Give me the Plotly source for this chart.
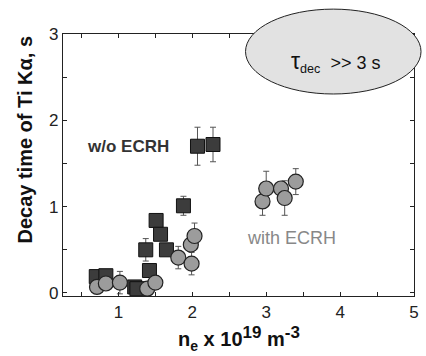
import plotly.graph_objects as go

# w/o ECRH (squares)
sq_x = [0.70, 0.83, 1.22, 1.25, 1.37, 1.42, 1.51, 1.57, 1.65, 1.88, 2.07, 2.28]
sq_y = [0.19, 0.20, 0.07, 0.05, 0.50, 0.26, 0.84, 0.68, 0.50, 1.01, 1.70, 1.72]
sq_e = [0.00, 0.00, 0.00, 0.00, 0.13, 0.00, 0.00, 0.00, 0.00, 0.11, 0.22, 0.20]

# with ECRH (circles)
ci_x = [0.71, 0.83, 1.02, 1.39, 1.50, 1.81, 1.99, 1.98, 2.03, 2.95, 3.00, 3.20, 3.25, 3.40]
ci_y = [0.07, 0.11, 0.12, 0.05, 0.12, 0.41, 0.34, 0.56, 0.66, 1.06, 1.21, 1.21, 1.10, 1.29]
ci_e = [0.00, 0.00, 0.13, 0.00, 0.00, 0.13, 0.13, 0.00, 0.15, 0.16, 0.20, 0.00, 0.20, 0.15]

x_ticks = [1, 2, 3, 4, 5]
y_ticks = [0, 1, 2, 3]

FONT = "Liberation Sans, Arial"

fig = go.Figure()
fig.add_trace(go.Scatter(
    x=sq_x, y=sq_y, mode="markers",
    error_y=dict(type="data", array=sq_e, color="#555555", thickness=1, width=3),
    marker=dict(symbol="square", size=14, color="#3c3c3c",
                line=dict(color="#111111", width=1)),
    showlegend=False))
fig.add_trace(go.Scatter(
    x=ci_x, y=ci_y, mode="markers",
    error_y=dict(type="data", array=ci_e, color="#555555", thickness=1, width=3),
    marker=dict(symbol="circle", size=15, color="#9c9c9c",
                line=dict(color="#222222", width=1.2)),
    showlegend=False))

axis_common = dict(showline=True, linecolor="#222222", linewidth=1.2, mirror="allticks",
                   ticks="inside", ticklen=4, tickcolor="#222222", showgrid=False,
                   zeroline=False, tickfont=dict(family=FONT, size=17, color="#222222"),
                   minor=dict(dtick=0.5, tick0=0, ticks="inside", ticklen=4,
                              tickcolor="#222222", showgrid=False))

fig.update_xaxes(range=[0.25, 5.0], tickvals=x_ticks, **axis_common)
fig.update_yaxes(range=[-0.035, 3.0], tickvals=y_ticks, **axis_common)

fig.add_shape(type="circle", xref="paper", yref="paper",
              x0=0.520, x1=1.020, y0=0.771, y1=1.095,
              fillcolor="#e2e2e2", line=dict(color="#222222", width=1), layer="above")

fig.add_annotation(xref="paper", yref="paper", x=0.775, y=0.893, showarrow=False,
                   xanchor="center", yanchor="middle",
                   text="<span style='font-size:23px'>τ</span><sub>dec</sub>  >> 3 s",
                   font=dict(family=FONT, size=18, color="#111111"))
fig.add_annotation(xref="x", yref="y", x=1.13, y=1.70, showarrow=False,
                   text="<b>w/o ECRH</b>",
                   font=dict(family=FONT, size=17, color="#333333"))
fig.add_annotation(xref="x", yref="y", x=3.34, y=0.64, showarrow=False,
                   text="with ECRH",
                   font=dict(family=FONT, size=18, color="#888888"))
fig.add_annotation(xref="paper", yref="paper", x=(242 - 63) / 356, y=(296 - 339) / 262,
                   showarrow=False, xanchor="center", yanchor="middle",
                   text="<b>n<sub>e</sub> x 10<sup><span style='font-size:17px'>19</span></sup>"
                        " m<sup><span style='font-size:17px'>-3</span></sup></b>",
                   font=dict(family=FONT, size=20, color="#111111"))
fig.add_annotation(xref="paper", yref="paper", x=(24 - 63) / 356, y=(296 - 140) / 262,
                   showarrow=False, xanchor="center", yanchor="middle", textangle=-90,
                   text="<b>Decay time of Ti Kα, s</b>",
                   font=dict(family=FONT, size=20, color="#111111"))

fig.update_layout(width=426, height=356, margin=dict(l=63, r=7, t=34, b=60),
                  plot_bgcolor="white", paper_bgcolor="white")

fig.write_html("out.html", config={"displayModeBar": False},
               post_script="document.body.style.margin='0';")
